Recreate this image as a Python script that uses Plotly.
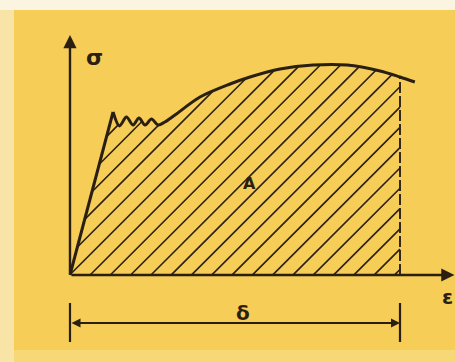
import numpy as np
import plotly.graph_objects as go

# Schematic engineering stress-strain curve of a ductile steel
strain = [0.0, 2.61, 3.0, 3.42, 3.82, 4.18, 4.55, 4.94, 5.33, 5.75,
          6.36, 7.88, 9.70, 10.91, 12.73, 14.73, 16.79, 18.79, 20.0, 20.9]
stress = [0, 326, 298, 316, 300, 314, 300, 312, 300, 306,
          320, 356, 382, 396, 412, 420, 420, 408, 396, 386]

elongation = 20.0            # strain at fracture (delta)
axis_eps_max = 23.3          # length of the strain axis
axis_sig_max = 480           # length of the stress axis
dim_level = -96              # stress level of the dimension line

W, H = 455, 362
x_range = [-4.242, 23.333]
y_range = [-174, 550]

INK = "#2a1f12"
YELLOW = "#f5cd57"

fig = go.Figure()

# --- hatching of the area under the curve (work of deformation) ---
px_eps = W / (x_range[1] - x_range[0])
px_sig = H / (y_range[1] - y_range[0])
hatch_angle = np.deg2rad(45)
hatch_gap_px = 20.3
slope = np.tan(hatch_angle) * px_eps / px_sig      # d(stress)/d(strain)
gap = hatch_gap_px / px_eps

eps_grid = np.linspace(0, elongation, 4000)
sig_curve = np.interp(eps_grid, strain, stress)
hx, hy = [], []
offsets = np.arange(-30, 30) * gap + 20.0 / px_eps
for c in offsets:
    line = (eps_grid - c) * slope
    inside = (line >= 0) & (line <= sig_curve)
    if not inside.any():
        continue
    idx = np.flatnonzero(inside)
    splits = np.split(idx, np.flatnonzero(np.diff(idx) > 1) + 1)
    for seg in splits:
        if len(seg) < 2:
            continue
        a, b = seg[0], seg[-1]
        hx += [eps_grid[a], eps_grid[b], None]
        hy += [line[a], line[b], None]

fig.add_trace(go.Scatter(x=hx, y=hy, mode="lines",
                         line=dict(color=INK, width=1.6),
                         hoverinfo="skip", showlegend=False))

# fracture strain marker (dashed)
sig_fracture = float(np.interp(elongation, strain, stress))
fig.add_trace(go.Scatter(x=[elongation, elongation], y=[0, sig_fracture],
                         mode="lines",
                         line=dict(color=INK, width=1.9, dash="11px,3px"),
                         showlegend=False))

# elastic part
fig.add_trace(go.Scatter(x=strain[:2], y=stress[:2], mode="lines",
                         line=dict(color=INK, width=3), showlegend=False))
# yielding and strain hardening
fig.add_trace(go.Scatter(x=strain[1:], y=stress[1:], mode="lines",
                         line=dict(color=INK, width=3, shape="spline",
                                   smoothing=0.9),
                         showlegend=False))

# dimension line ticks
for e in (0, elongation):
    fig.add_trace(go.Scatter(x=[e, e], y=[dim_level + 40, dim_level - 38],
                             mode="lines", line=dict(color=INK, width=2.2),
                             showlegend=False))

LABEL_FONT = dict(color=INK, family="DejaVu Sans", weight="bold")
annotations = [
    # axes with arrows
    dict(x=axis_eps_max, y=0, ax=0, ay=0, axref="x", ayref="y",
         showarrow=True, arrowhead=2, arrowsize=1.1, arrowwidth=2.4,
         arrowcolor=INK, text=""),
    dict(x=0, y=axis_sig_max, ax=0, ay=0, axref="x", ayref="y",
         showarrow=True, arrowhead=2, arrowsize=1.1, arrowwidth=2.4,
         arrowcolor=INK, text=""),
    # dimension line for the elongation
    dict(x=elongation, y=dim_level, ax=0, ay=dim_level, axref="x", ayref="y",
         showarrow=True, arrowhead=2, arrowside="end+start", arrowsize=1.0,
         arrowwidth=1.8, arrowcolor=INK, text=""),
    dict(x=1.5, y=436, text="σ", showarrow=False,
         font=dict(size=22, **LABEL_FONT)),
    dict(x=22.9, y=-44, text="ε", showarrow=False,
         font=dict(size=20, **LABEL_FONT)),
    dict(x=10.5, y=-76, text="δ", showarrow=False,
         font=dict(size=20, **LABEL_FONT)),
    dict(x=10.9, y=184, text="A", showarrow=False,
         font=dict(size=16, **LABEL_FONT)),
]

shapes = [
    # paler edges of the sheet
    dict(type="rect", xref="paper", yref="paper", x0=0, x1=1,
         y0=1 - 10 / H, y1=1, fillcolor="#fbf4e0", line_width=0,
         layer="below"),
    dict(type="rect", xref="paper", yref="paper", x0=0, x1=14 / W,
         y0=0, y1=1 - 10 / H, fillcolor="#f8e4a6", line_width=0,
         layer="below"),
    dict(type="rect", xref="paper", yref="paper", x0=14 / W, x1=1,
         y0=0, y1=12 / H, fillcolor="#f6d877", line_width=0,
         layer="below"),
]

fig.update_layout(
    width=W, height=H,
    margin=dict(l=0, r=0, t=0, b=0),
    paper_bgcolor=YELLOW, plot_bgcolor=YELLOW,
    xaxis=dict(range=x_range, visible=False, fixedrange=True),
    yaxis=dict(range=y_range, visible=False, fixedrange=True),
    annotations=annotations,
    shapes=shapes,
    showlegend=False,
)

fig.write_html("out.html")
